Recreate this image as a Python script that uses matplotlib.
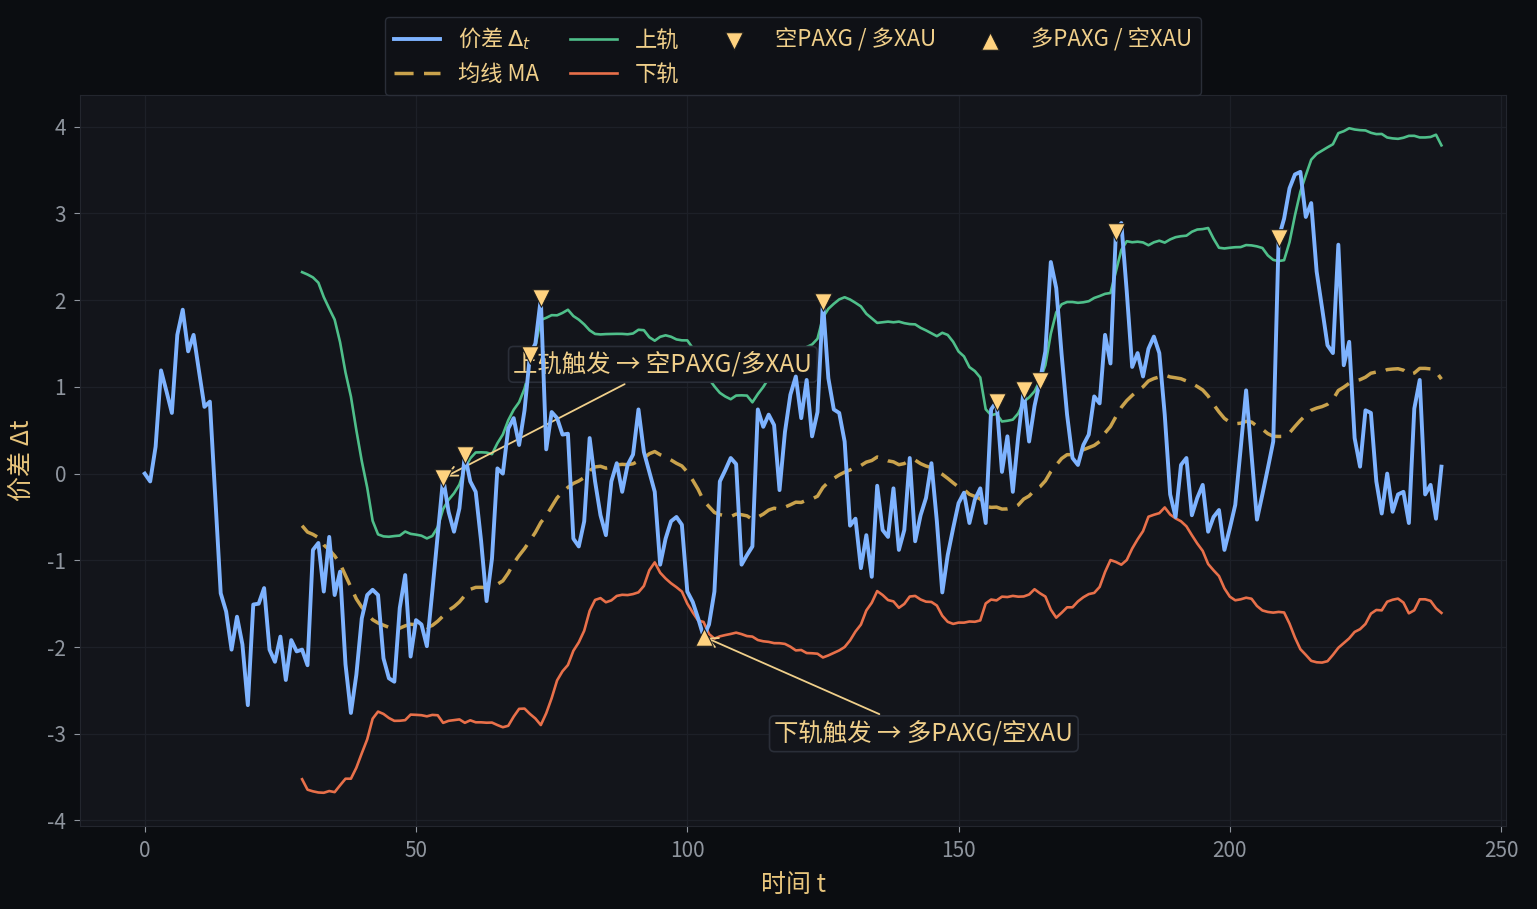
import numpy as np
import pandas as pd
import matplotlib
matplotlib.use("Agg")
import matplotlib.pyplot as plt

# ---------------- data ----------------
spread = [
    0.00, -0.09, 0.31, 1.19, 0.95, 0.70, 1.60, 1.89, 1.41, 1.60,
    1.18, 0.77, 0.83, -0.28, -1.38, -1.59, -2.03, -1.65, -1.97, -2.67,
    -1.51, -1.50, -1.32, -2.03, -2.17, -1.88, -2.38, -1.92, -2.05, -2.03,
    -2.21, -0.88, -0.80, -1.36, -0.73, -1.40, -1.13, -2.20, -2.76, -2.32,
    -1.67, -1.40, -1.34, -1.40, -2.13, -2.36, -2.40, -1.55, -1.17, -2.11,
    -1.69, -1.74, -1.99, -1.36, -0.71, -0.05, -0.44, -0.67, -0.40, 0.22,
    -0.09, -0.21, -0.78, -1.47, -0.98, 0.06, 0.00, 0.52, 0.64, 0.33,
    0.73, 1.37, 1.50, 2.02, 0.28, 0.71, 0.64, 0.45, 0.46, -0.75,
    -0.84, -0.55, 0.41, -0.09, -0.48, -0.71, -0.09, 0.12, -0.21, 0.10,
    0.22, 0.74, 0.25, 0.02, -0.21, -1.05, -0.75, -0.55, -0.50, -0.59,
    -1.36, -1.48, -1.67, -1.88, -1.74, -1.36, -0.09, 0.04, 0.18, 0.11,
    -1.05, -0.94, -0.84, 0.74, 0.54, 0.68, 0.56, -0.19, 0.48, 0.91,
    1.12, 0.64, 1.08, 0.43, 0.71, 1.98, 1.10, 0.74, 0.70, 0.37,
    -0.60, -0.52, -1.09, -0.71, -1.19, -0.14, -0.65, -0.73, -0.17, -0.88,
    -0.65, 0.18, -0.78, -0.48, -0.28, 0.12, -0.55, -1.37, -0.94, -0.63,
    -0.34, -0.22, -0.57, -0.30, -0.17, -0.57, 0.74, 0.83, 0.02, 0.43,
    -0.21, 0.43, 0.96, 0.37, 0.78, 1.07, 1.41, 2.44, 2.14, 1.37,
    0.68, 0.18, 0.10, 0.33, 0.45, 0.89, 0.81, 1.60, 1.27, 2.79,
    2.89, 2.10, 1.23, 1.39, 1.12, 1.44, 1.58, 1.39, 0.68, -0.24,
    -0.50, 0.10, 0.18, -0.48, -0.28, -0.13, -0.67, -0.50, -0.42, -0.88,
    -0.63, -0.36, 0.29, 0.96, 0.21, -0.53, -0.24, 0.06, 0.37, 2.72,
    2.94, 3.29, 3.45, 3.48, 2.96, 3.12, 2.33, 1.91, 1.48, 1.39,
    2.64, 1.25, 1.52, 0.41, 0.08, 0.73, 0.70, -0.09, -0.46, 0.00,
    -0.44, -0.24, -0.21, -0.57, 0.75, 1.08, -0.24, -0.13, -0.52, 0.08,
]
window = 30
band_k = 2
short_idx = [55, 59, 71, 73, 125, 157, 162, 165, 179, 209]   # 空PAXG / 多XAU
long_idx = [103]                                            # 多PAXG / 空XAU

x_ticks = [0, 50, 100, 150, 200, 250]
y_ticks = [-4, -3, -2, -1, 0, 1, 2, 3, 4]

labels = ["价差 $\\Delta_t$", "均线 MA", "上轨", "下轨", "空PAXG / 多XAU", "多PAXG / 空XAU"]
ann_upper_text = "上轨触发 → 空PAXG/多XAU"
ann_lower_text = "下轨触发 → 多PAXG/空XAU"
ann_upper_pos = (95.5, 1.26)
ann_lower_pos = (143.6, -3.0)

# ---------------- derived statistics ----------------
s = pd.Series(spread, dtype=float)
t = np.arange(len(s))
ma = s.rolling(window).mean()
sd = s.rolling(window).std(ddof=0)
upper = ma + band_k * sd
lower = ma - band_k * sd
sp = np.asarray(spread)

# ---------------- style ----------------
plt.rcParams["font.family"] = ["Noto Sans CJK SC", "DejaVu Sans"]
plt.rcParams["axes.unicode_minus"] = False

FIG_BG = "#0b0d11"
AX_BG = "#13151b"
GOLD = "#f0cf8a"
LABEL = "#e8c57c"
TICK = "#8f959e"

fig = plt.figure(figsize=(15.37, 9.09), dpi=100, facecolor=FIG_BG)
ax = fig.add_axes([0.052, 0.0913, 0.928, 0.8042])
ax.set_facecolor(AX_BG)
ax.grid(True, color="#1d2028", lw=0.9)
ax.set_axisbelow(True)
for spn in ax.spines.values():
    spn.set_color("#23262e")

ax.plot(t, sp, color="#7eb3ff", lw=2.8, label=labels[0], zorder=4)
ax.plot(t, ma, color="#c9a24c", lw=2.5, ls=(0, (5.5, 3)), label=labels[1], zorder=3)
ax.plot(t, upper, color="#4fbf8a", lw=1.9, label=labels[2], zorder=3)
ax.plot(t, lower, color="#e8704a", lw=1.9, label=labels[3], zorder=3)
ax.scatter(short_idx, sp[short_idx], marker="v", s=160, color="#ffd27f",
           edgecolor="#1c1c1c", linewidth=0.8, zorder=6, label=labels[4])
ax.scatter(long_idx, sp[long_idx], marker="^", s=160, color="#ffd27f",
           edgecolor="#1c1c1c", linewidth=0.8, zorder=6, label=labels[5])

bbox_style = dict(boxstyle="round,pad=0.2", fc=AX_BG, ec="#2a2e38", lw=1.2)
ax.annotate(ann_upper_text, xy=(short_idx[0], sp[short_idx[0]]), xytext=ann_upper_pos,
            ha="center", va="center", color=GOLD, fontsize=17.6, bbox=bbox_style,
            arrowprops=dict(arrowstyle="->", color=GOLD, lw=1.3), zorder=3.5)
ax.annotate(ann_lower_text, xy=(long_idx[0], sp[long_idx[0]]), xytext=ann_lower_pos,
            ha="center", va="center", color=GOLD, fontsize=17.6, bbox=bbox_style,
            arrowprops=dict(arrowstyle="->", color=GOLD, lw=1.3), zorder=3.5)

ax.set_xticks(x_ticks)
ax.set_yticks(y_ticks)
ax.tick_params(colors=TICK, labelsize=15, length=4, width=0.8, pad=6)
ax.set_xlabel("时间 t", color=LABEL, fontsize=18, labelpad=7)
ax.set_ylabel("价差 Δt", color=LABEL, fontsize=18, labelpad=9)

leg = ax.legend(loc="lower center", bbox_to_anchor=(0.5, 1.0), ncol=4,
                frameon=True, facecolor="#0f1116", edgecolor="#2a2e38",
                fontsize=16, labelcolor=GOLD, handlelength=2.1,
                columnspacing=1.4, borderaxespad=0, framealpha=1)

fig.savefig("out.png", dpi=100, facecolor=FIG_BG)
